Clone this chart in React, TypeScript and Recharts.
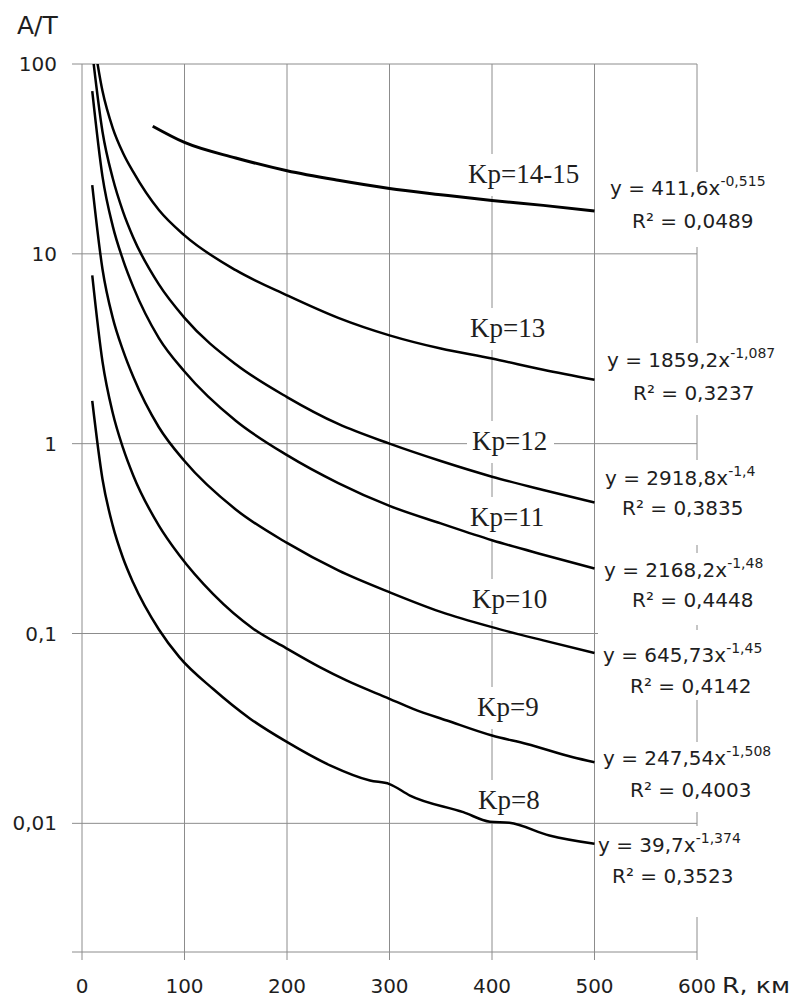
import React from 'react';
import { LineChart, Line, XAxis, YAxis, CartesianGrid, Customized } from 'recharts';

// distance R, km
const distance = [10, 20, 30, 40, 50, 75, 100, 150, 200, 250, 300, 350, 400, 450, 500];
const distance1415 = [69, 100, 150, 200, 250, 300, 350, 400, 450, 500];
const distance9 = [10, 20, 30, 40, 50, 75, 95, 128, 167, 199, 232, 258, 300, 323, 356, 400, 434, 479, 500];
const distance8 = [10, 20, 30, 40, 50, 75, 95, 128, 164, 199, 242, 281, 300, 320, 372, 398, 417, 456, 500];

// A/T values
const kp1415 = [47, 38.6, 32, 27.4, 24.4, 22.1, 20.5, 19.1, 18.0, 16.8];
const kp13 = [150, 72, 46, 34, 27, 17, 12.5, 8.2, 6.05, 4.6, 3.72, 3.17, 2.81, 2.45, 2.17];
const kp12 = [116, 44, 25, 16.7, 12.2, 6.9, 4.6, 2.62, 1.76, 1.27, 1.0, 0.81, 0.67, 0.57, 0.49];
const kp11 = [72, 25.5, 14, 9.3, 6.7, 3.6, 2.4, 1.32, 0.87, 0.62, 0.47, 0.38, 0.31, 0.26, 0.22];
const kp10 = [23, 8.3, 4.6, 3.1, 2.25, 1.22, 0.81, 0.45, 0.3, 0.215, 0.165, 0.13, 0.108, 0.092, 0.079];
const kp9 = [7.7, 2.7, 1.45, 0.95, 0.68, 0.37, 0.258, 0.161, 0.106, 0.0838, 0.0665, 0.0566, 0.0453, 0.0401, 0.0348, 0.029, 0.0262, 0.0223, 0.021];
const kp8 = [1.68, 0.65, 0.37, 0.25, 0.185, 0.105, 0.0751, 0.051, 0.0356, 0.027, 0.0202, 0.0168, 0.0161, 0.014, 0.01145, 0.0102, 0.01006, 0.00863, 0.0078];

const xTicks = [0, 100, 200, 300, 400, 500, 600];
const Y_MIN = 0.0021;
const yTicks = [Y_MIN, 0.01, 0.1, 1, 10, 100];

const kpLabels = ['Kp=14-15', 'Kp=13', 'Kp=12', 'Kp=11', 'Kp=10', 'Kp=9', 'Kp=8'];
const fitCoef = ['411,6', '1859,2', '2918,8', '2168,2', '645,73', '247,54', '39,7'];
const fitExp = ['-0,515', '-1,087', '-1,4', '-1,48', '-1,45', '-1,508', '-1,374'];
const fitR2 = ['0,0489', '0,3237', '0,3835', '0,4448', '0,4142', '0,4003', '0,3523'];

const toPoints = (xs: number[], ys: number[]) => xs.map((x, i) => ({ x, y: ys[i] }));

const series = [
  { key: 'kp1415', points: toPoints(distance1415, kp1415), width: 3 },
  { key: 'kp13', points: toPoints(distance, kp13), width: 2.5 },
  { key: 'kp12', points: toPoints(distance, kp12), width: 2.5 },
  { key: 'kp11', points: toPoints(distance, kp11), width: 2.5 },
  { key: 'kp10', points: toPoints(distance, kp10), width: 2.5 },
  { key: 'kp9', points: toPoints(distance9, kp9), width: 2.5 },
  { key: 'kp8', points: toPoints(distance8, kp8), width: 2.5 },
];

// label placement, page pixels
const kpPos = [
  [468, 183], [470, 337], [472, 450], [470, 526], [472, 608], [477, 716], [478, 809],
];
const kpWidths = [115, 77, 77, 77, 78, 63, 64];
const eqPos = [
  { x1: 610, y1: 195, x2: 632, y2: 228, top: 172, bottom: 247 },
  { x1: 607, y1: 367, x2: 633, y2: 400, top: 343, bottom: 415 },
  { x1: 605, y1: 485, x2: 622, y2: 515, top: 460, bottom: 545 },
  { x1: 604, y1: 577, x2: 632, y2: 607, top: 553, bottom: 625 },
  { x1: 603, y1: 662, x2: 630, y2: 693, top: 630, bottom: 700 },
  { x1: 603, y1: 765, x2: 630, y2: 797, top: 742, bottom: 812 },
  { x1: 598, y1: 852, x2: 612, y2: 883, top: 826, bottom: 917 },
];

const SANS = 'DejaVu Sans';
const SERIF = 'Liberation Serif';
const INK = '#1e1e1e';
const GRID = '#8c8c8c';

function Notes() {
  return (
    <g>
      {kpLabels.map((t, i) => (
        <g key={t}>
          <rect x={kpPos[i][0] - 5} y={kpPos[i][1] - 29} width={kpWidths[i] + 10} height={42} fill="#fff" />
          <text x={kpPos[i][0]} y={kpPos[i][1]} fontFamily={SERIF} fontSize={27} fill={INK}>
            {t}
          </text>
        </g>
      ))}
      {eqPos.map((p, i) => (
        <g key={i}>
          <rect x={598} y={p.top} width={194} height={p.bottom - p.top} fill="#fff" />
          <text x={p.x1} y={p.y1} fontFamily={SANS} fontSize={20} fill={INK}>
            {`y = ${fitCoef[i]}x`}
            <tspan fontSize={14} dy={-9}>{fitExp[i]}</tspan>
          </text>
          <text x={p.x2} y={p.y2} fontFamily={SANS} fontSize={20} fill={INK}>
            {`R² = ${fitR2[i]}`}
          </text>
        </g>
      ))}
      <text x={17} y={34} fontFamily={SANS} fontSize={25} fill={INK}>
        A/T
      </text>
      <text
        x={722}
        y={993}
        fontFamily={SANS}
        fontSize={21}
        fill={INK}
        textLength={68}
        lengthAdjust="spacingAndGlyphs"
      >
        R, км
      </text>
    </g>
  );
}

const fmtY = (v: number) => (v === Y_MIN ? '' : String(v).replace('.', ','));

export default function App() {
  return (
    <div style={{ position: 'absolute', left: 0, top: 0, background: '#fff' }}>
      <LineChart width={794} height={998} margin={{ top: 64, right: 97, bottom: 0, left: 0 }}>
        <CartesianGrid stroke={GRID} strokeWidth={1} />
        <XAxis
          type="number"
          dataKey="x"
          domain={[0, 600]}
          ticks={xTicks}
          interval={0}
          allowDataOverflow
          height={46}
          tickSize={8}
          tickMargin={19}
          axisLine={false}
          tickLine={{ stroke: GRID }}
          tick={{ fill: INK, fontSize: 20, fontFamily: SANS }}
        />
        <YAxis
          type="number"
          scale="log"
          domain={[Y_MIN, 100]}
          ticks={yTicks}
          interval={0}
          allowDataOverflow
          width={82}
          tickSize={10}
          tickMargin={15}
          axisLine={false}
          tickLine={{ stroke: GRID }}
          tickFormatter={fmtY}
          tick={{ fill: INK, fontSize: 20, fontFamily: SANS }}
        />
        {series.map((s) => (
          <Line
            key={s.key}
            data={s.points}
            dataKey="y"
            type="monotone"
            stroke="#000"
            strokeWidth={s.width}
            dot={false}
            activeDot={false}
            isAnimationActive={false}
          />
        ))}
        <Customized component={Notes} />
      </LineChart>
    </div>
  );
}
